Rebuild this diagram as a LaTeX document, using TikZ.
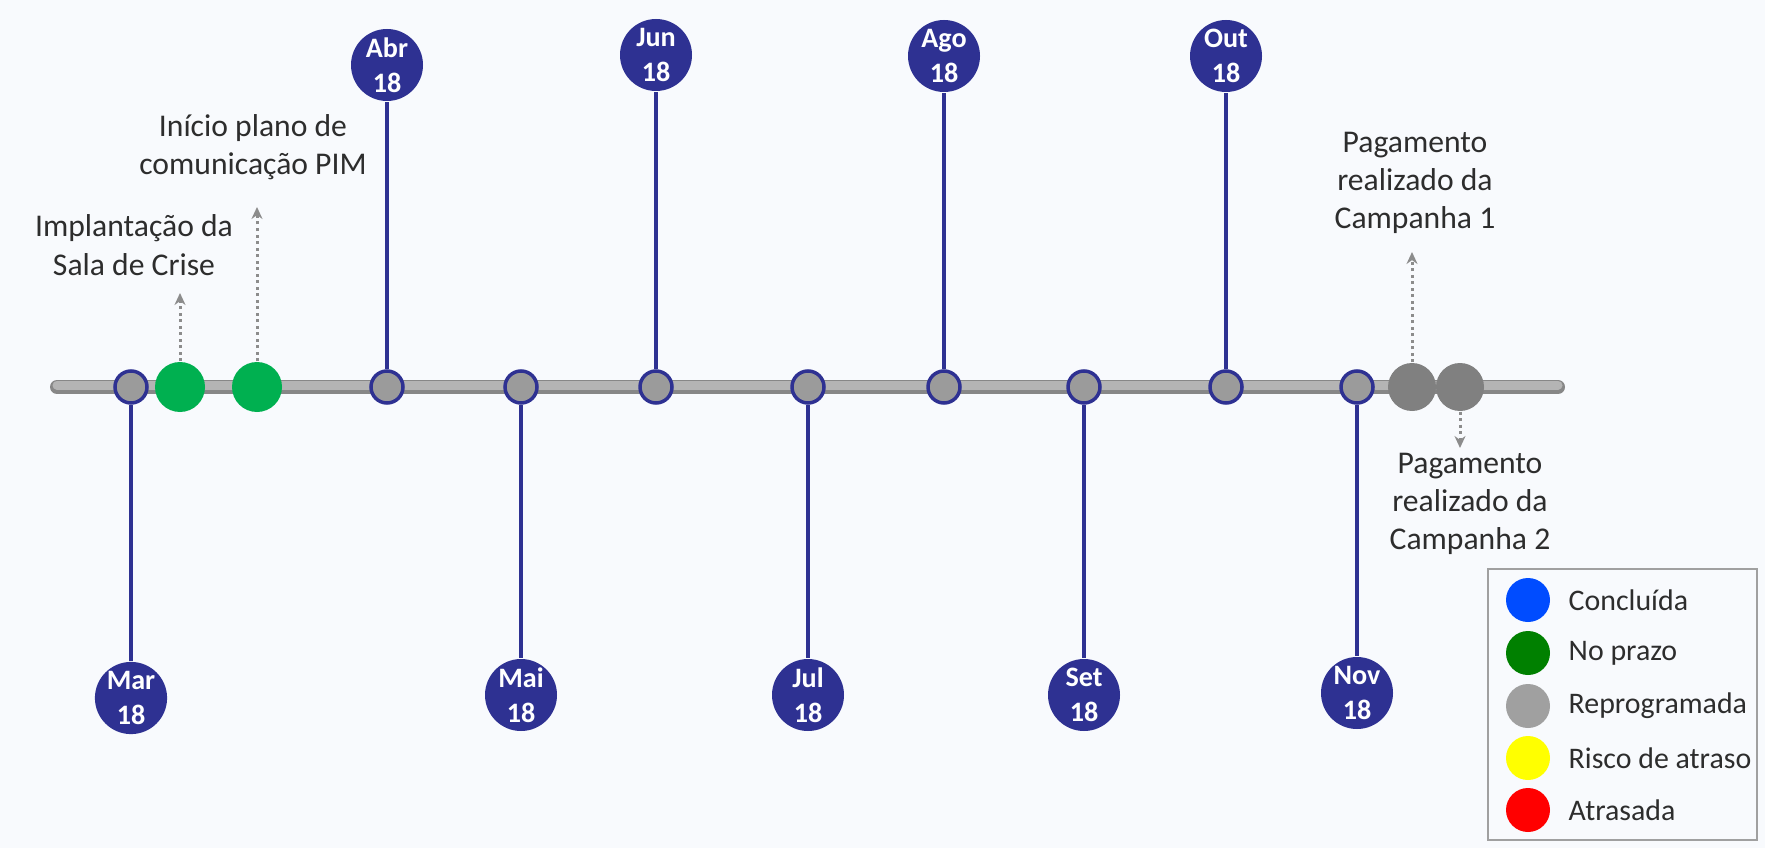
\documentclass[tikz,border=0pt]{standalone}
\usepackage{fontspec}
\setmainfont{Carlito}
\usepackage{xcolor}
\definecolor{navy}{RGB}{46, 49, 146}
\definecolor{barcol}{RGB}{180, 180, 180}
\definecolor{baredge}{RGB}{135, 135, 135}
\definecolor{tickfill}{RGB}{155, 155, 155}
\definecolor{dotgray}{RGB}{140, 140, 140}
\definecolor{okgreen}{RGB}{0, 176, 80}
\definecolor{repgray}{RGB}{128, 128, 128}
\definecolor{txt}{RGB}{45, 45, 45}
\definecolor{bgcol}{RGB}{248, 250, 253}
\definecolor{legblue}{RGB}{0, 76, 255}
\definecolor{leggreen}{RGB}{0, 128, 0}
\definecolor{leggray}{RGB}{160, 160, 160}
\definecolor{legyellow}{RGB}{255, 255, 0}
\definecolor{legred}{RGB}{255, 0, 0}
\usepackage{tikz}
\usetikzlibrary{arrows.meta}

\tikzset{
	month/.style={circle, fill=navy, text=white, inner sep=0pt, minimum size=7.2mm, align=center, font=\bfseries\fontsize{8}{10}\selectfont},
	tick/.style={circle, draw=navy, fill=tickfill, line width=0.35mm, inner sep=0pt, minimum size=3.2mm},
	stem/.style={navy, line width=0.4mm},
	event/.style={circle, inner sep=0pt, minimum size=5mm},
	note/.style={text=txt, align=center, font=\fontsize{9}{10.9}\selectfont},
	dotarrow/.style={dotgray, line width=0.3mm, densely dotted, -{Stealth[length=1.2mm, width=1.1mm]}},
	legdot/.style={circle, inner sep=0pt, minimum size=4.4mm},
	legtxt/.style={anchor=west, inner sep=0pt, text=txt, font=\fontsize{8.5}{10}\selectfont}
}

\begin{document}
\begin{tikzpicture}[x=0.1mm, y=-0.1mm]
		\fill[bgcol] (0,0) rectangle (1765,848);
		% linha do tempo
		\coordinate (ini) at (57,387);
		\coordinate (fim) at (1558,387);
		\draw[line width=1.4mm, baredge, line cap=round] (ini) -- (fim);
		\draw[line width=0.9mm, barcol, line cap=round] ([yshift=0.2mm]ini) -- ([yshift=0.2mm]fim);
		% marcos mensais
		\node[tick] (tmar) at (131,387) {};
		\node[tick] (tabr) at (387,387) {};
		\node[tick] (tmai) at (521,387) {};
		\node[tick] (tjun) at (656,387) {};
		\node[tick] (tjul) at (808,387) {};
		\node[tick] (tago) at (944,387) {};
		\node[tick] (tset) at (1084,387) {};
		\node[tick] (tout) at (1226,387) {};
		\node[tick] (tnov) at (1357,387) {};
		\node[month] (mar) at (131,698) {Mar\\18};
		\node[month] (abr) at (387,65) {Abr\\18};
		\node[month] (mai) at (521,695) {Mai\\18};
		\node[month] (jun) at (656,55) {Jun\\18};
		\node[month] (jul) at (808,695) {Jul\\18};
		\node[month] (ago) at (944,56) {Ago\\18};
		\node[month] (set) at (1084,695) {Set\\18};
		\node[month] (out) at (1226,56) {Out\\18};
		\node[month] (nov) at (1357,693) {Nov\\18};
		\draw[stem] (tmar) -- (mar);
		\draw[stem] (tabr) -- (abr);
		\draw[stem] (tmai) -- (mai);
		\draw[stem] (tjun) -- (jun);
		\draw[stem] (tjul) -- (jul);
		\draw[stem] (tago) -- (ago);
		\draw[stem] (tset) -- (set);
		\draw[stem] (tout) -- (out);
		\draw[stem] (tnov) -- (nov);
		% eventos
		\node[event, fill=okgreen] (sala) at (180,387) {};
		\node[event, fill=okgreen] (pim) at (257,387) {};
		\node[event, fill=repgray, minimum size=4.8mm] (camp1) at (1412,387) {};
		\node[event, fill=repgray, minimum size=4.8mm] (camp2) at (1460,387) {};
		\node[note] (lsala) at (134,245) {Implantação da\\Sala de Crise};
		\node[note] (lpim) at (253,147) {Início plano de\\comunicação PIM};
		\node[note] (lcamp1) at (1415,183) {Pagamento\\realizado da\\Campanha 1};
		\node[note] (lcamp2) at (1470,504) {Pagamento\\realizado da\\Campanha 2};
		\coordinate (asala) at (180,293);
		\coordinate (apim) at (257,207);
		\coordinate (acamp1) at (1412,252);
		\coordinate (acamp2) at (1460,448);
		\draw[dotarrow] (sala.north) -- (asala);
		\draw[dotarrow] (pim.north) -- (apim);
		\draw[dotarrow] (camp1.north) -- (acamp1);
		\draw[dotarrow] (camp2.south) -- (acamp2);
		% legenda
		\draw[leggray, line width=0.15mm] (1488,569) rectangle (1757,840);
		\node[legdot, fill=legblue] (kconc) at (1528,600) {};
		\node[legdot, fill=leggreen] (kprazo) at (1528,653) {};
		\node[legdot, fill=leggray] (krep) at (1528,706) {};
		\node[legdot, fill=legyellow] (krisco) at (1528,758) {};
		\node[legdot, fill=legred] (katr) at (1528,810) {};
		\node[legtxt] at (1568,600) {Concluída};
		\node[legtxt] at (1568,653) {No prazo};
		\node[legtxt] at (1568,706) {Reprogramada};
		\node[legtxt] at (1568,758) {Risco de atraso};
		\node[legtxt] at (1568,810) {Atrasada};
	\end{tikzpicture}
\end{document}
